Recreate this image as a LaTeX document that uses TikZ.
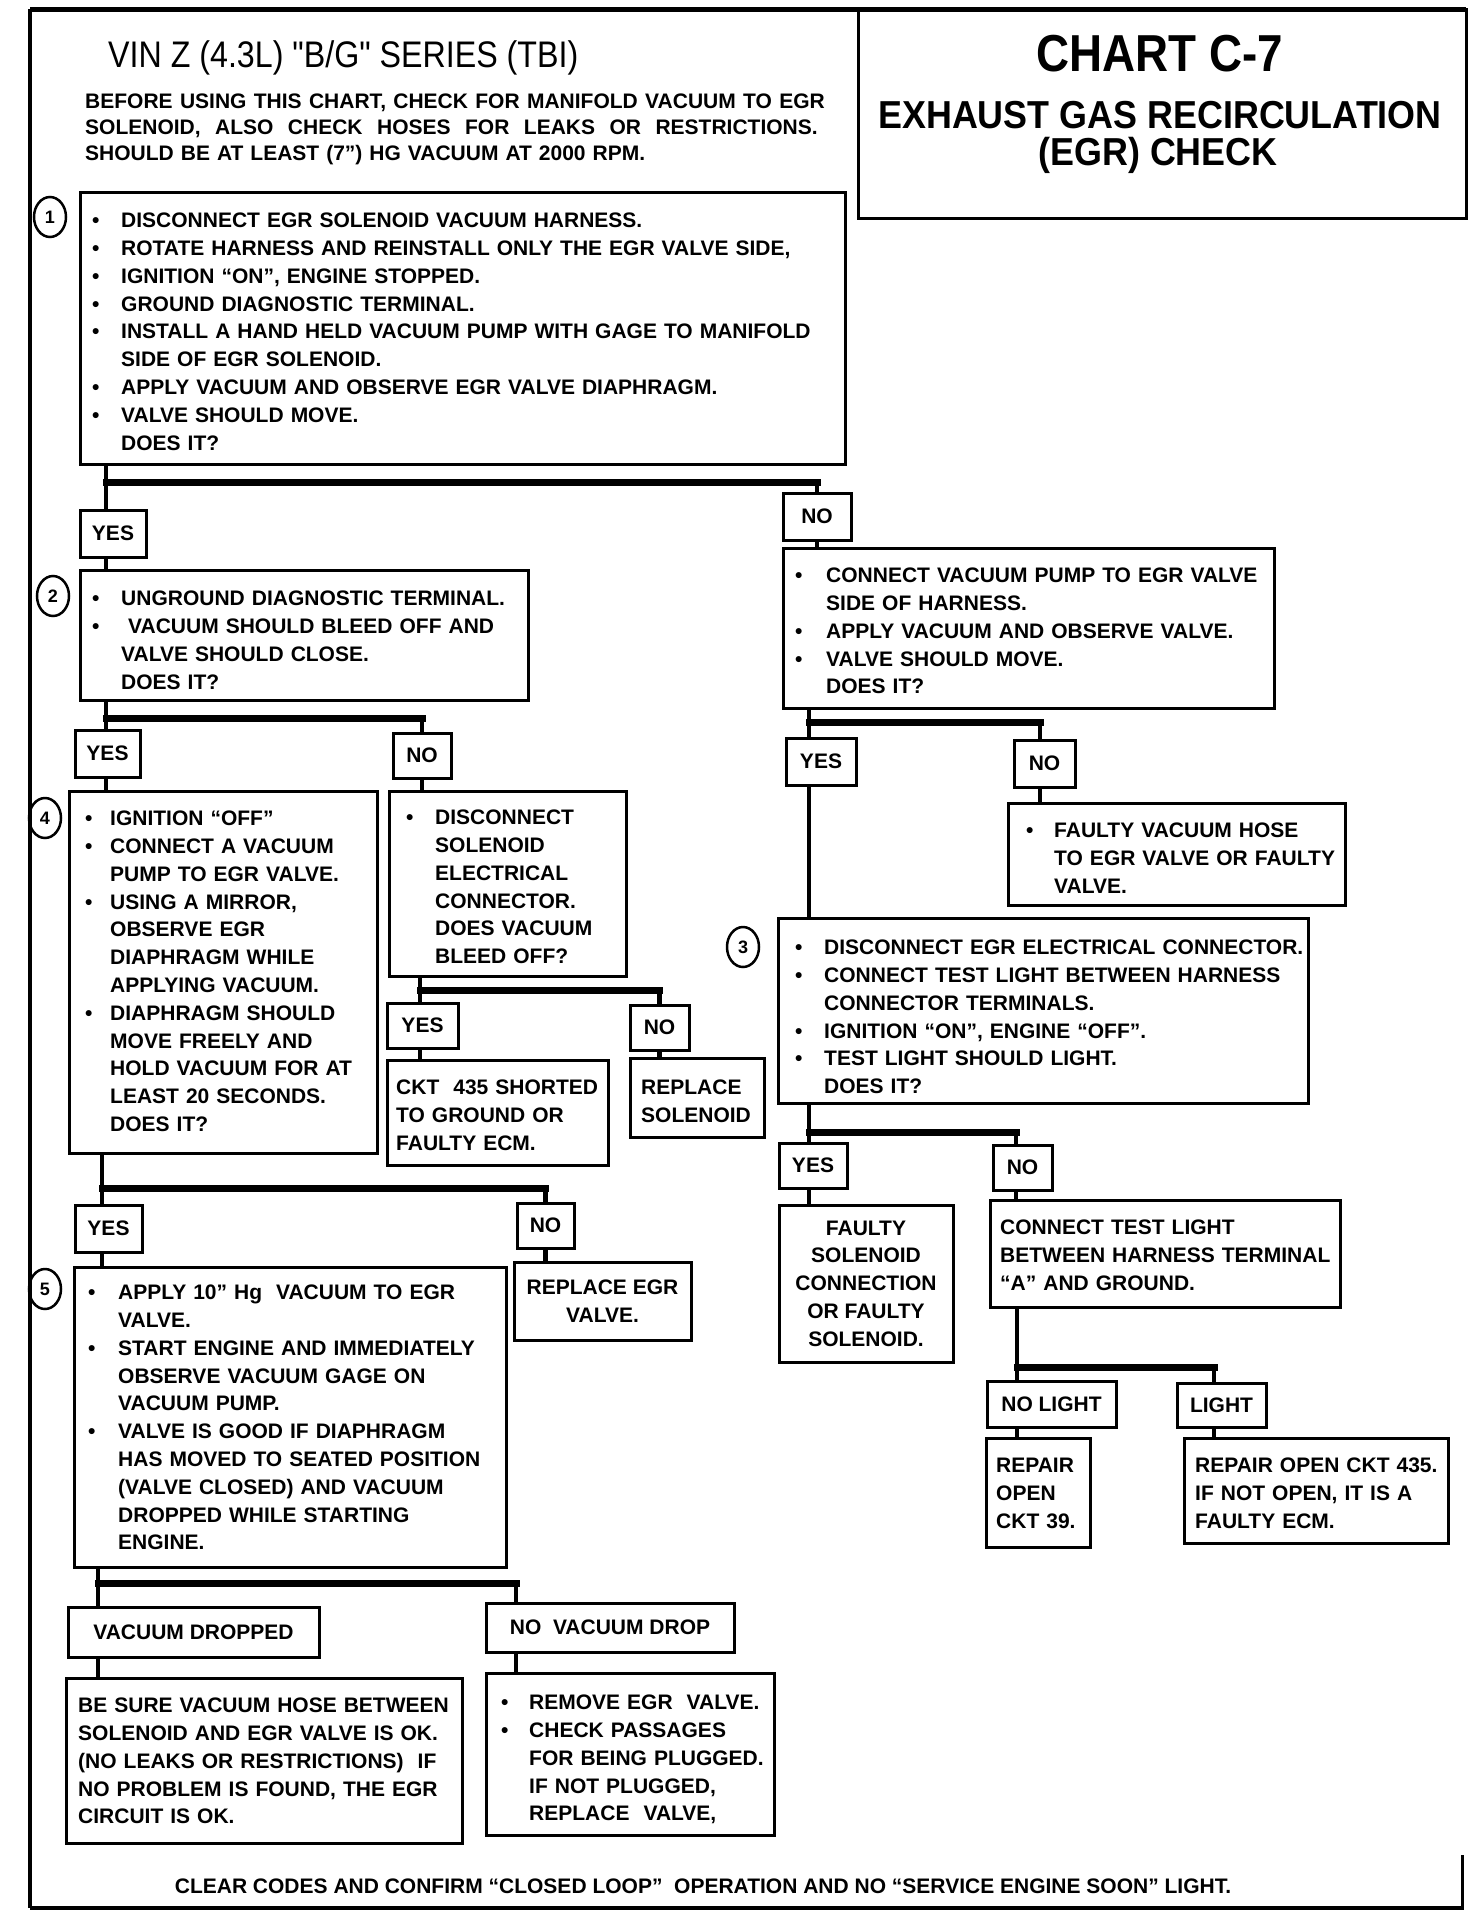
\documentclass[tikz,border=0pt]{standalone}
\usepackage{fontspec}
\setmainfont{Liberation Sans}
\newfontfamily\titlef{Liberation Sans}[FakeStretch=0.87]
\newfontfamily\headf{Liberation Sans}[FakeStretch=0.88]
\newfontfamily\subf{Liberation Sans}[FakeStretch=0.92]
\usetikzlibrary{shapes.geometric}
\newlength\bw
\setlength\bw{29pt}
\newcommand\bodytext{\fontsize{21}{27.8}\selectfont\bfseries}
\newcommand\bulx{\makebox[\bw][l]{\textbullet}}
\newcommand\indx{\hspace*{\bw}}
\newcommand\wsp{\hspace{0pt plus 1fil}}
\newcommand\mkbox[7]{\node[#7, minimum width={#4-#2}, minimum height={#5-#3}] (#1) at ({(#2+#4)/2},{(#3+#5)/2}) {#6};}
\begin{document}
\begin{tikzpicture}[x=1pt,y=-1pt,
  box/.style={draw, line width=3pt, inner sep=0pt},
  lbl/.style={draw, line width=3pt, inner sep=0pt, align=center, font=\bodytext},
  txt/.style={anchor=north west, align=left, inner sep=0pt, text width=720pt, font=\bodytext},
  wire/.style={line width=4.5pt},
  bar/.style={line width=7pt, line cap=rect},
  num/.style={draw, ellipse, line width=2.5pt, minimum width=32pt, minimum height=40pt, inner sep=0pt, font=\fontsize{18}{18}\selectfont\bfseries}]
\useasboundingbox (0,0) rectangle (1472,1922);
\fill[white] (0,0) rectangle (1472,1922);
% frame
\draw[line width=5pt] (30,9) -- (1466,9);
\draw[line width=4pt] (30,9) -- (30,1908);
\draw[line width=4pt] (30,1908) -- (1464,1908);
\draw[line width=3pt] (1462,1855) -- (1462,1908);
% title area
\node[anchor=base west, inner sep=0pt, font=\titlef\fontsize{37}{37}\selectfont] (vin) at (108,67) {VIN Z (4.3L) "B/G" SERIES (TBI)};
\node[txt, text width=760pt, font=\fontsize{21}{26}\selectfont\bfseries] (hdr) at (85,90) {\strut\makebox[740pt][l]{BEFORE\wsp{} USING\wsp{} THIS\wsp{} CHART,\wsp{} CHECK\wsp{} FOR\wsp{} MANIFOLD\wsp{} VACUUM\wsp{} TO\wsp{} EGR}\\
\makebox[740pt][l]{SOLENOID,\wsp{} ALSO\wsp{} CHECK\wsp{} HOSES\wsp{} FOR\wsp{} LEAKS\wsp{} OR\wsp{} RESTRICTIONS.}\\
SHOULD BE AT LEAST (7”) HG VACUUM AT 2000 RPM.};
\mkbox{chart}{858}{9}{1466}{218}{}{box}
\node[anchor=base, inner sep=0pt, font=\headf\fontsize{52}{52}\selectfont\bfseries] (ct) at (1160,71) {CHART C-7};
\node[anchor=base, inner sep=0pt, font=\subf\fontsize{39}{39}\selectfont\bfseries] (cs1) at (1160,128) {EXHAUST GAS RECIRCULATION};
\node[anchor=base, inner sep=0pt, font=\subf\fontsize{39}{39}\selectfont\bfseries] (cs2) at (1158,165) {(EGR) CHECK};
% box 1
\mkbox{b1}{80}{192}{845}{464}{}{box}
\node[num] (c1) at (50,217) {1};
\node[txt] (t1) at (92,208) {\strut\bulx DISCONNECT EGR SOLENOID VACUUM HARNESS.\\
\bulx ROTATE HARNESS AND REINSTALL ONLY THE EGR VALVE SIDE,\\
\bulx IGNITION “ON”, ENGINE STOPPED.\\
\bulx GROUND DIAGNOSTIC TERMINAL.\\
\bulx INSTALL A HAND HELD VACUUM PUMP WITH GAGE TO MANIFOLD\\
\indx SIDE OF EGR SOLENOID.\\
\bulx APPLY VACUUM AND OBSERVE EGR VALVE DIAPHRAGM.\\
\bulx VALVE SHOULD MOVE.\\
\indx DOES IT?};
\coordinate (j1) at (106,482);
\mkbox{y1}{80}{510}{146}{557}{YES}{lbl}
\mkbox{n1}{783}{493}{851}{540}{NO}{lbl}
% box 2
\mkbox{b2}{80}{570}{528}{700}{}{box}
\node[num] (c2) at (53,596) {2};
\node[txt] (t2) at (92,586) {\strut\bulx UNGROUND DIAGNOSTIC TERMINAL.\\
\bulx \ VACUUM SHOULD BLEED OFF AND\\
\indx VALVE SHOULD CLOSE.\\
\indx DOES IT?};
% right box after NO
\mkbox{r1}{783}{548}{1274}{708}{}{box}
\node[txt] (tr1) at (795,563) {\setlength\bw{31pt}\strut\bulx CONNECT VACUUM PUMP TO EGR VALVE\\
\indx SIDE OF HARNESS.\\
\bulx APPLY VACUUM AND OBSERVE VALVE.\\
\bulx VALVE SHOULD MOVE.\\
\indx DOES IT?};
\draw[wire] (b1.south -| j1) -- (y1.north -| j1);
\draw[bar] (j1) -- (j1 -| n1);
\draw[wire] (j1 -| n1) -- (n1.north);
\draw[wire] (y1.south -| j1) -- (b2.north -| j1);
\draw[wire] (n1.south) -- (r1.north -| n1);
% box 2 branches
\coordinate (j2) at (106,718);
\mkbox{y2}{75}{730}{140}{777}{YES}{lbl}
\mkbox{n2}{393}{733}{451}{778}{NO}{lbl}
\mkbox{b4}{69}{791}{377}{1153}{}{box}
\node[num] (c4) at (45,818) {4};
\node[txt] (t4) at (85,806) {\setlength\bw{25pt}\strut\bulx IGNITION “OFF”\\
\bulx CONNECT A VACUUM\\
\indx PUMP TO EGR VALVE.\\
\bulx USING A MIRROR,\\
\indx OBSERVE EGR\\
\indx DIAPHRAGM WHILE\\
\indx APPLYING VACUUM.\\
\bulx DIAPHRAGM SHOULD\\
\indx MOVE FREELY AND\\
\indx HOLD VACUUM FOR AT\\
\indx LEAST 20 SECONDS.\\
\indx DOES IT?};
\mkbox{b2n}{389}{791}{626}{976}{}{box}
\node[txt] (tb2n) at (406,805) {\setlength\bw{29pt}\strut\bulx DISCONNECT\\
\indx SOLENOID\\
\indx ELECTRICAL\\
\indx CONNECTOR.\\
\indx DOES VACUUM\\
\indx BLEED OFF?};
\draw[wire] (b2.south -| j2) -- (y2.north -| j2);
\draw[bar] (j2) -- (j2 -| n2);
\draw[wire] (j2 -| n2) -- (n2.north);
\draw[wire] (y2.south -| j2) -- (b4.north -| j2);
\draw[wire] (n2.south) -- (b2n.north -| n2);
% disconnect branches
\coordinate (j3) at (420,990);
\mkbox{y3}{387}{1003}{458}{1048}{YES}{lbl}
\mkbox{n3}{630}{1005}{689}{1050}{NO}{lbl}
\mkbox{k3}{387}{1060}{608}{1165}{}{box}
\node[txt] (tk3) at (396,1075) {\strut CKT \ 435 SHORTED\\TO GROUND OR\\FAULTY ECM.};
\mkbox{rs}{630}{1058}{764}{1137}{}{box}
\node[txt] (trs) at (641,1075) {\strut REPLACE\\SOLENOID};
\draw[wire] (b2n.south -| j3) -- (y3.north -| j3);
\draw[bar] (j3) -- (j3 -| n3);
\draw[wire] (j3 -| n3) -- (n3.north);
\draw[wire] (y3.south -| j3) -- (k3.north -| j3);
\draw[wire] (n3.south) -- (rs.north -| n3);
% box 4 branches
\coordinate (j4) at (102,1188);
\mkbox{y4}{75}{1205}{142}{1252}{YES}{lbl}
\mkbox{n4}{517}{1203}{574}{1248}{NO}{lbl}
\mkbox{b5}{74}{1267}{506}{1567}{}{box}
\node[num] (c5) at (45,1289) {5};
\node[txt] (t5) at (88,1280) {\setlength\bw{30pt}\strut\bulx APPLY 10” Hg \ VACUUM TO EGR\\
\indx VALVE.\\
\bulx START ENGINE AND IMMEDIATELY\\
\indx OBSERVE VACUUM GAGE ON\\
\indx VACUUM PUMP.\\
\bulx VALVE IS GOOD IF DIAPHRAGM\\
\indx HAS MOVED TO SEATED POSITION\\
\indx (VALVE CLOSED) AND VACUUM\\
\indx DROPPED WHILE STARTING\\
\indx ENGINE.};
\mkbox{re}{514}{1262}{691}{1340}{REPLACE EGR\\VALVE.}{lbl}
\draw[wire] (b4.south -| j4) -- (y4.north -| j4);
\draw[bar] (j4) -- (j4 -| n4);
\draw[wire] (j4 -| n4) -- (n4.north);
\draw[wire] (y4.south -| j4) -- (b5.north -| j4);
\draw[wire] (n4.south) -- (re.north -| n4);
% box 5 branches
\coordinate (j5) at (98,1583);
\coordinate (j5r) at (516,1583);
\mkbox{vd}{68}{1607}{319}{1657}{VACUUM DROPPED}{lbl}
\mkbox{nv}{486}{1603}{734}{1652}{NO \ VACUUM DROP}{lbl}
\mkbox{bs}{66}{1678}{462}{1843}{}{box}
\node[txt] (tbs) at (78,1693) {\strut BE SURE VACUUM HOSE BETWEEN\\
SOLENOID AND EGR VALVE IS OK.\\
(NO LEAKS OR RESTRICTIONS) \ IF\\
NO PROBLEM IS FOUND, THE EGR\\
CIRCUIT IS OK.};
\mkbox{rm}{486}{1673}{774}{1835}{}{box}
\node[txt] (trm) at (501,1690) {\setlength\bw{28pt}\strut\bulx REMOVE EGR \ VALVE.\\
\bulx CHECK PASSAGES\\
\indx FOR BEING PLUGGED.\\
\indx IF NOT PLUGGED,\\
\indx REPLACE \ VALVE,};
\draw[wire] (b5.south -| j5) -- (vd.north -| j5);
\draw[bar] (j5) -- (j5r);
\draw[wire] (j5r) -- (nv.north -| j5r);
\draw[wire] (vd.south -| j5) -- (bs.north -| j5);
\draw[wire] (nv.south -| j5r) -- (rm.north -| j5r);
% right column
\coordinate (j6) at (809,722);
\coordinate (j6r) at (1040,722);
\mkbox{y6}{786}{738}{856}{785}{YES}{lbl}
\mkbox{n6}{1014}{740}{1075}{787}{NO}{lbl}
\mkbox{fh}{1008}{803}{1345}{905}{}{box}
\node[txt] (tfh) at (1026,818) {\setlength\bw{28pt}\strut\bulx FAULTY VACUUM HOSE\\
\indx TO EGR VALVE OR FAULTY\\
\indx VALVE.};
\mkbox{b3}{778}{918}{1308}{1103}{}{box}
\node[num] (c3) at (743,947) {3};
\node[txt] (t3) at (795,935) {\setlength\bw{29pt}\strut\bulx DISCONNECT EGR ELECTRICAL CONNECTOR.\\
\bulx CONNECT TEST LIGHT BETWEEN HARNESS\\
\indx CONNECTOR TERMINALS.\\
\bulx IGNITION “ON”, ENGINE “OFF”.\\
\bulx TEST LIGHT SHOULD LIGHT.\\
\indx DOES IT?};
\draw[wire] (r1.south -| j6) -- (y6.north -| j6);
\draw[bar] (j6) -- (j6r);
\draw[wire] (j6r) -- (n6.north -| j6r);
\draw[wire] (y6.south -| j6) -- (b3.north -| j6);
\draw[wire] (n6.south -| j6r) -- (fh.north -| j6r);
% box 3 branches
\coordinate (j7) at (809,1132);
\coordinate (j7r) at (1016,1132);
\mkbox{y7}{779}{1143}{847}{1188}{YES}{lbl}
\mkbox{n7}{993}{1145}{1052}{1190}{NO}{lbl}
\mkbox{fs}{779}{1205}{953}{1362}{FAULTY\\SOLENOID\\CONNECTION\\OR FAULTY\\SOLENOID.}{lbl}
\mkbox{tl}{990}{1200}{1340}{1307}{}{box}
\node[txt] (ttl) at (1000,1215) {\strut CONNECT TEST LIGHT\\
BETWEEN HARNESS TERMINAL\\
“A” AND GROUND.};
\draw[wire] (b3.south -| j7) -- (y7.north -| j7);
\draw[bar] (j7) -- (j7r);
\draw[wire] (j7r) -- (n7.north -| j7r);
\draw[wire] (y7.south -| j7) -- (fs.north -| j7);
\draw[wire] (n7.south -| j7r) -- (tl.north -| j7r);
% test light branches
\coordinate (j8) at (1017,1367);
\coordinate (j8r) at (1214,1367);
\mkbox{nl}{987}{1381}{1116}{1427}{NO LIGHT}{lbl}
\mkbox{li}{1177}{1383}{1266}{1427}{LIGHT}{lbl}
\mkbox{ro}{986}{1438}{1090}{1547}{}{box}
\node[txt] (tro) at (996,1453) {\strut REPAIR\\OPEN\\CKT 39.};
\mkbox{rc}{1184}{1438}{1448}{1543}{}{box}
\node[txt] (trc) at (1195,1453) {\strut REPAIR OPEN CKT 435.\\IF NOT OPEN, IT IS A\\FAULTY ECM.};
\draw[wire] (tl.south -| j8) -- (nl.north -| j8);
\draw[bar] (j8) -- (j8r);
\draw[wire] (j8r) -- (li.north -| j8r);
\draw[wire] (nl.south -| j8) -- (ro.north -| j8);
\draw[wire] (li.south -| j8r) -- (rc.north -| j8r);
% footer
\node[anchor=base, inner sep=0pt, font=\bodytext] (ft) at (703,1893) {CLEAR CODES AND CONFIRM “CLOSED LOOP” \ OPERATION AND NO “SERVICE ENGINE SOON” LIGHT.};
\end{tikzpicture}
\end{document}
